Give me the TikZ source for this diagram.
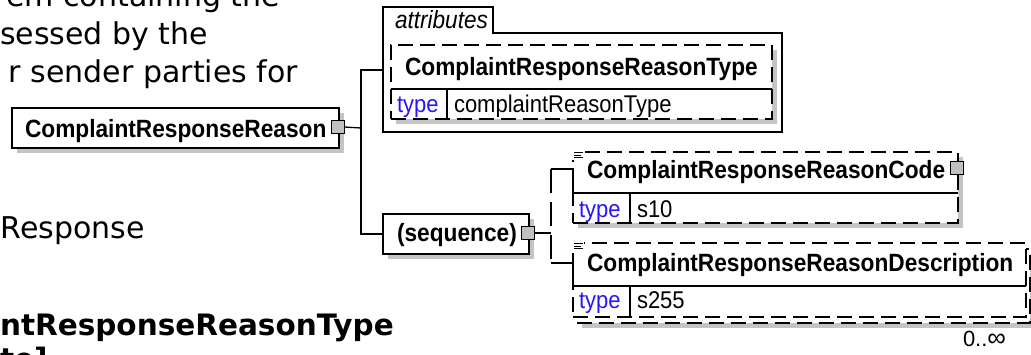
\documentclass[tikz,border=0pt]{standalone}
\usepackage{fontspec}
\setmainfont{Liberation Sans}
\newfontfamily\docfont{DejaVu Sans}
\usetikzlibrary{shadows,calc}
\definecolor{shadowgray}{RGB}{196,196,196}
\definecolor{btngray}{RGB}{192,192,192}
\definecolor{typeblue}{RGB}{40,20,255}
\newcommand{\tall}[1]{\scalebox{1}[1.1]{#1}}
\begin{document}
\begin{tikzpicture}[x=1pt,y=-1pt, line width=1.3pt,
  every node/.style={inner sep=0pt,outer sep=0pt},
  elbox/.style={draw, fill=white, anchor=north west},
  shad/.style={drop shadow={shadow xshift=5pt,shadow yshift=-5pt,opacity=1,fill=shadowgray}},
  optbox/.style={elbox, dash pattern=on 15pt off 7pt},
  btn/.style={draw, fill=btngray, minimum width=13pt, minimum height=13pt, line width=1pt},
  nm/.style={anchor=base west, font=\fontsize{22.7pt}{27pt}\selectfont\bfseries},
  tp/.style={anchor=base west, font=\fontsize{22pt}{26pt}\selectfont, text=typeblue},
  val/.style={anchor=base west, font=\fontsize{22pt}{26pt}\selectfont},
  ital/.style={anchor=base west, font=\fontsize{22.6pt}{26pt}\selectfont\itshape},
  doc/.style={font=\docfont\fontsize{30pt}{38pt}\selectfont, anchor=base east},
  docb/.style={font=\docfont\fontsize{29.5pt}{38pt}\selectfont\bfseries, anchor=base west},
  dconn/.style={dash pattern=on 24pt off 9pt},
  icon/.style={line width=0.8pt},
]
\useasboundingbox (0,0) rectangle (1031,354);
\clip (0,0) rectangle (1031,354);

% background document text
\node[doc] (t1) at (280,6) {em containing the};
\node[doc] (t2) at (208,44) {sessed by the};
\node[doc] (t3) at (298,82) {r sender parties for};
\node[doc] (t4) at (145,238) {Response};
\node[docb] (t5) at (0,335) {ntResponseReasonType};
\node[docb] (t6) at (0,369) {te]};

% root element
\node[elbox, shad, minimum width=327pt, minimum height=40pt] (mainbox) at (12,108) {};
\node[nm] (maintxt) at (25,137) {\tall{ComplaintResponseReason}};
\node[btn] (mainbtn) at (338,127) {};

% attributes group
\draw[fill=white] (383,132) -- (383,7) -- (493,7) -- (493,33) -- (782,33) -- (782,132) -- cycle;
\node[ital] (attrlbl) at (395,28) {\tall{attributes}};
\coordinate (attrconn) at (383,70);
\node[optbox, shad, minimum width=381pt, minimum height=74pt] (attrbox) at (391,45) {};
\draw ($(attrbox.north west)+(0,44)$) -- ($(attrbox.north east)+(0,44)$);
\draw ($(attrbox.north west)+(56,44)$) -- ($(attrbox.south west)+(56,0)$);
\node[nm] (attrname) at (405,75) {\tall{ComplaintResponseReasonType}};
\node[tp] (attrtype) at (397,112) {\tall{type}};
\node[val] (attrval) at (454,112) {\tall{complaintReasonType}};

% sequence
\node[elbox, shad, minimum width=146pt, minimum height=40pt] (seqbox) at (383,214) {};
\node[nm] (seqtxt) at (397,241) {\tall{(sequence)}};
\node[btn] (seqbtn) at (528,233) {};

% root connectors
\coordinate (tj) at (361,128);
\draw (mainbtn.east) -- (tj);
\draw (attrconn) -| (tj) |- (seqbox.west);

% sequence connectors
\coordinate (sj) at (551,233);
\coordinate (ctop) at (551,169);
\coordinate (cbot) at (551,263);
\draw (seqbtn.east) -- (sj);
\draw[dconn] (ctop) -- (cbot);

% Code element
\node[optbox, shad, minimum width=385pt, minimum height=71pt] (codebox) at (573,152) {};
\coordinate (codesep) at ($(codebox.north west)+(0,41)$);
\draw (ctop) -| (codesep);
\draw (codesep) -- ($(codebox.north east)+(0,41)$);
\draw ($(codebox.north west)+(57,41)$) -- ($(codebox.south west)+(57,0)$);
\fill[white] ($(codebox.north west)+(-1,-2)$) rectangle ++(12,10);
\draw[icon] ($(codebox.north west)+(1,0.5)$) -- ++(9,0);
\draw[icon] ($(codebox.north west)+(1,3)$) -- ++(7,0);
\draw[icon] ($(codebox.north west)+(1,5.5)$) -- ++(9,0);
\node[nm] (codename) at (587,178) {\tall{ComplaintResponseReasonCode}};
\node[tp] (codetype) at (579,217) {\tall{type}};
\node[val] (codeval) at (637,217) {\tall{s10}};
\node[btn] (codebtn) at (957,168) {};

% Description element (repeating)
\node[optbox, shad, minimum width=453pt, minimum height=74pt] (descback) at (577,249) {};
\node[optbox, minimum width=453pt, minimum height=74pt] (descbox) at (573,243) {};
\coordinate (descsep) at ($(descbox.north west)+(0,43)$);
\draw (cbot) -| (descsep);
\draw (descsep) -- ($(descbox.north east)+(0,43)$);
\draw ($(descbox.north west)+(57,43)$) -- ($(descbox.south west)+(57,0)$);
\fill[white] ($(descbox.north west)+(-1,-2)$) rectangle ++(12,10);
\draw[icon] ($(descbox.north west)+(1,0.5)$) -- ++(9,0);
\draw[icon] ($(descbox.north west)+(1,3)$) -- ++(7,0);
\draw[icon] ($(descbox.north west)+(1,5.5)$) -- ++(9,0);
\node[nm] (descname) at (587,271) {\tall{ComplaintResponseReasonDescription}};
\node[tp] (desctype) at (579,308) {\tall{type}};
\node[val] (descval) at (637,308) {\tall{s255}};
\node[val, font=\fontsize{22pt}{26pt}\selectfont] (card) at (963,346) {0..{\fontsize{26pt}{26pt}\selectfont ∞}};
\end{tikzpicture}
\end{document}
